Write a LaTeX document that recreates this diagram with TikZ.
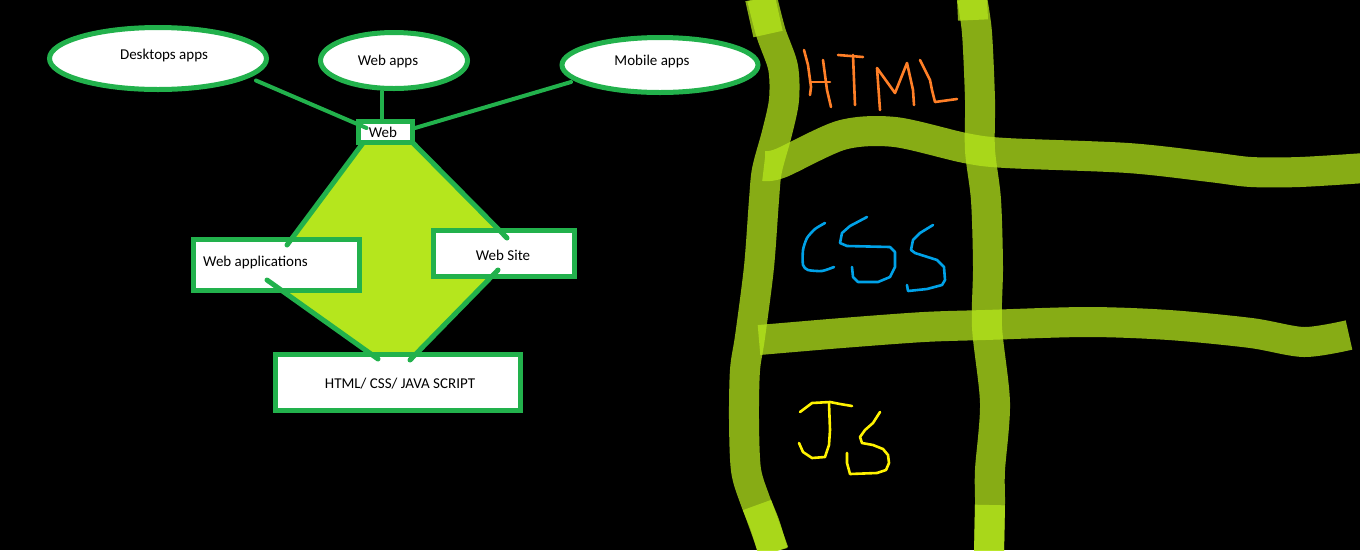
\documentclass[tikz,border=0pt]{standalone}
\usepackage{fontspec}
\setmainfont{Carlito}
\usetikzlibrary{shapes.geometric,calc}
\definecolor{pgreen}{RGB}{34,177,76}
\definecolor{plime}{RGB}{181,230,29}
\definecolor{porange}{RGB}{255,127,39}
\definecolor{pblue}{RGB}{0,162,232}
\definecolor{pyellow}{RGB}{255,242,0}
\begin{document}
\begin{tikzpicture}[x=1pt,y=-1pt,
  oval/.style={ellipse, draw=pgreen, line width=5pt, fill=white, inner sep=0pt},
  rbox/.style={rectangle, draw=pgreen, line width=5pt, fill=white, inner sep=0pt},
  lbl/.style={font=\fontsize{15}{18}\selectfont, text=black, inner sep=0pt},
  conn/.style={draw=pgreen, line width=4pt, line cap=round},
  dedge/.style={draw=pgreen, line width=5pt, line cap=round},
  brush/.style={draw=plime, draw opacity=0.75, line width=30pt, line cap=butt, line join=round},
  handpen/.style={line width=2.6pt, line cap=round, line join=round}]
\useasboundingbox (0,0) rectangle (1360,550);
\fill[black] (0,0) rectangle (1360,550);

% ---------- right side: brush grid ----------
\draw[brush] plot[smooth, tension=0.5] coordinates {(762,-2) (771,33) (783,67) (784,100) (777,133) (767,170) (764,200) (759,267) (750,337) (745,370) (744,420) (746,470) (755,500) (765,525) (773,552)};
\draw[brush] (760,-2) -- (768,34);
\draw[brush] (757,505) -- (774,552);
\draw[brush] plot[smooth, tension=0.5] coordinates {(972,-2) (977,33) (980,100) (980,150) (986,200) (988,267) (987,327) (995,403) (990,470) (990,503) (989,552)};
\draw[brush] (972,-2) -- (973,20);
\draw[brush] (990,505) -- (989,552);
\draw[brush] plot[smooth, tension=0.5] coordinates {(764,166) (781,163) (842,135) (895,132) (965,148) (1006,153) (1128,158) (1210,167) (1251,172) (1300,172) (1365,168)};
\draw[brush] plot[smooth, tension=0.5] coordinates {(759,340) (842,333) (924,327) (985,325) (1087,322) (1169,325) (1251,333) (1304,342) (1349,335)};

% HTML
\draw[handpen, porange] (804,50) -- (808,65) -- (811,87) -- (810,95);
\draw[handpen, porange] (810,82) -- (830,82);
\draw[handpen, porange] (823,60) -- (827,90) -- (831,107);
\draw[handpen, porange] (838,55) -- (863,57);
\draw[handpen, porange] (853,55) -- (855,105);
\draw[handpen, porange] (880,110) -- (877,68) -- (895,93) -- (907,63) -- (913,90) -- (914,105);
\draw[handpen, porange] (920,60) -- (930,80) -- (932,90) -- (935,102) -- (957,99);
% CSS
\draw[handpen, pblue] plot[smooth, tension=0.4] coordinates {(825,223) (815,229) (807,238) (803,250) (803,265) (808,270) (822,271) (834,267)};
\draw[handpen, pblue] (867,217) -- (850,226) -- (842,233) -- (840,243) -- (847,246) -- (890,247) -- (895,252) -- (895,267) -- (890,277) -- (878,282) -- (858,282) -- (853,277) -- (852,267);
\draw[handpen, pblue] (933,225) -- (920,233) -- (913,240) -- (911,250) -- (915,253) -- (937,260) -- (944,267) -- (945,280) -- (942,285) -- (927,289) -- (908,291) -- (907,285);
% JS
\draw[handpen, pyellow] (800,412) -- (812,403) -- (830,402) -- (840,404) -- (852,406);
\draw[handpen, pyellow] (829,403) -- (830,430) -- (829,445) -- (825,457) -- (812,458) -- (803,452) -- (799,443);
\draw[handpen, pyellow] (880,412) -- (873,423) -- (865,430) -- (860,437) -- (862,443) -- (873,445) -- (883,449) -- (888,455) -- (889,463) -- (886,470) -- (877,473) -- (850,474) -- (847,463) -- (847,453);

% ---------- left side: diagram ----------
\node[oval, minimum width=217pt, minimum height=62pt] (desk) at (158,58.5) {};
\node[lbl] (deskt) at (164,55) {Desktops apps};
\node[oval, minimum width=147pt, minimum height=56pt] (wapps) at (394,60.5) {};
\node[lbl] (wappst) at (388,61) {Web apps};
\node[oval, minimum width=196pt, minimum height=55pt] (mob) at (660,65) {};
\node[lbl] (mobt) at (652,61) {Mobile apps};

\coordinate (wc) at (385.5,132);
\coordinate (ac) at (276.5,265);
\coordinate (sc) at (504,253.5);
\coordinate (cc) at (398,382.5);

% diamond fill
\fill[plime] ($(wc)+(-22.5,11)$) -- ($(wc)+(27.5,11)$) -- ($(sc)+(3,-15.5)$) -- ($(sc)+(-6,16.5)$)
  -- ($(cc)+(12,-22.5)$) -- ($(cc)+(-20,-23.5)$) -- ($(ac)+(-9.5,15)$) -- ($(ac)+(10.5,-20)$) -- cycle;

\node[rbox, minimum width=54.5pt, minimum height=21.5pt] (web) at (wc) {};
\node[lbl] (webt) at (383,132) {Web};
\node[rbox, minimum width=166.5pt, minimum height=51.5pt] (wapp) at (ac) {};
\node[lbl, anchor=west] (wappt) at (203,262) {Web applications};
\node[rbox, minimum width=141.5pt, minimum height=46.5pt] (site) at (sc) {};
\node[lbl] (sitet) at (503,255) {Web Site};
\node[rbox, minimum width=245.5pt, minimum height=56.5pt] (code) at (cc) {};
\node[lbl] (codet) at (400,384) {HTML/ CSS/ JAVA SCRIPT};

% diamond edges
\draw[dedge] ($(web.center)+(-22.5,11)$) -- ($(wapp.center)+(10.5,-20)$);
\draw[dedge] ($(web.center)+(27.5,11)$) -- ($(site.center)+(3,-15.5)$);
\draw[dedge] ($(wapp.center)+(-9.5,15)$) -- ($(code.center)+(-20,-23.5)$);
\draw[dedge] ($(site.center)+(-6,16.5)$) -- ($(code.center)+(12,-22.5)$);

% connectors
\draw[conn] ($(desk.center)+(98,22)$) -- ($(web.center)+(-19,-4)$);
\draw[conn] ($(wapps.center)+(-12,31)$) -- ($(web.center)+(-3.5,-12)$);
\draw[conn] ($(mob.center)+(-89,17)$) -- ($(web.center)+(29.5,-4)$);
\end{tikzpicture}
\end{document}
